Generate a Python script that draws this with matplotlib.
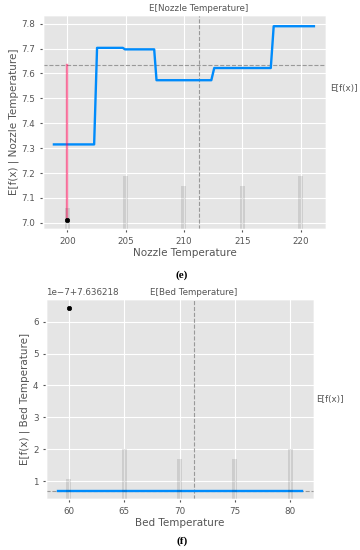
import matplotlib
matplotlib.use("Agg")
import matplotlib.pyplot as plt
import numpy as np

plt.style.use("ggplot")

# (e) nozzle temperature - partial dependence
nozzle_x = [198.85, 202.3, 202.55, 204.75, 204.95, 207.45, 207.65, 212.35, 212.6, 217.45, 217.7, 221.15]
nozzle_y = [7.315, 7.315, 7.703, 7.703, 7.697, 7.697, 7.573, 7.573, 7.622, 7.622, 7.79, 7.79]
nozzle_vals = [200, 205, 210, 215, 220]
nozzle_counts = [2, 5, 4, 4, 5]
nozzle_mean = 211.3
nozzle_point = (200, 7.013)

# (f) bed temperature - values given as 7.636218 + v * 1e-7
offset = 7.636218
bed_x = [59.0, 81.1]
bed_y = [0.70, 0.70]
bed_vals = [60, 65, 70, 75, 80]
bed_counts = [2, 5, 4, 4, 5]
bed_mean = 71.3
bed_point = (60, 6.43)

base_value = 7.636218 + 0.70e-7

blue = "#008bfb"
red = "#ff0052"
grey_txt = "#555555"


def pdp(ax, xs, ys, vals, counts, mean, base, xlim, ylim, name, efx_y, efx_dx):
    n = sum(counts)
    ax2 = ax.twinx()
    ax2.bar(vals, counts, width=0.44, color="black", alpha=0.1)
    ax2.set_ylim(0, n)
    ax2.set_yticks([])
    ax2.grid(False)

    ax.plot(xs, ys, color=blue, lw=1.7, zorder=3)
    ax.axvline(mean, color="#999999", ls="--", lw=0.8, zorder=2)
    ax.axhline(base, color="#999999", ls="--", lw=0.8, zorder=2)
    ax.set_xlim(*xlim)
    ax.set_ylim(*ylim)
    ax.set_xlabel(name, fontsize=7.5, color=grey_txt, labelpad=2)
    ax.set_ylabel("E[f(x) | " + name + "]", fontsize=7.5, color=grey_txt, labelpad=2)
    ax.tick_params(labelsize=6.3, colors=grey_txt, length=2)
    ax.text(mean, 1.01, "E[" + name + "]", transform=ax.get_xaxis_transform(),
            ha="center", va="bottom", fontsize=6.3, color=grey_txt)
    ax.text(1 + efx_dx, efx_y, "E[f(x)]", transform=ax.get_yaxis_transform(),
            ha="left", va="center", fontsize=6.3, color=grey_txt)


fig = plt.figure(figsize=(3.6, 5.5), dpi=100)
fig.patch.set_facecolor("white")

ax = fig.add_axes([0.119, 0.5836, 0.787, 0.3891])
pdp(ax, nozzle_x, nozzle_y, nozzle_vals, nozzle_counts, nozzle_mean, 7.636,
    (197.9, 222.2), (6.975, 7.835), "Nozzle Temperature", 7.539, 0.014)
ax.set_xticks([200, 205, 210, 215, 220])
ax.set_yticks(np.arange(7.0, 7.81, 0.1))
ax.plot([nozzle_point[0], nozzle_point[0]], [nozzle_point[1], 7.636], color=red, alpha=0.5, lw=1.7, zorder=4)
ax.scatter([nozzle_point[0]], [nozzle_point[1]], color="black", s=10, zorder=5)

ax = fig.add_axes([0.128, 0.0927, 0.744, 0.3637])
by = [offset + v * 1e-7 for v in bed_y]
pdp(ax, bed_x, by, bed_vals, bed_counts, bed_mean, base_value,
    (57.95, 82.14), (offset + 0.436e-7, offset + 6.71e-7), "Bed Temperature", offset + 3.55e-7, 0.01)
ax.set_xticks([60, 65, 70, 75, 80])
ax.set_yticks([offset + k * 1e-7 for k in range(1, 7)])
ax.scatter([bed_point[0]], [offset + bed_point[1] * 1e-7], color="black", s=10, zorder=5)
ax.yaxis.get_offset_text().set_fontsize(6.3)
ax.yaxis.get_offset_text().set_color(grey_txt)

fig.text(0.505, 1 - 275 / 550, "(e)", family="Liberation Serif", weight="bold", fontsize=8, ha="center", va="center")
fig.text(0.505, 1 - 541 / 550, "(f)", family="Liberation Serif", weight="bold", fontsize=8, ha="center", va="center")

plt.savefig("out.png", dpi=100)
plt.close()
